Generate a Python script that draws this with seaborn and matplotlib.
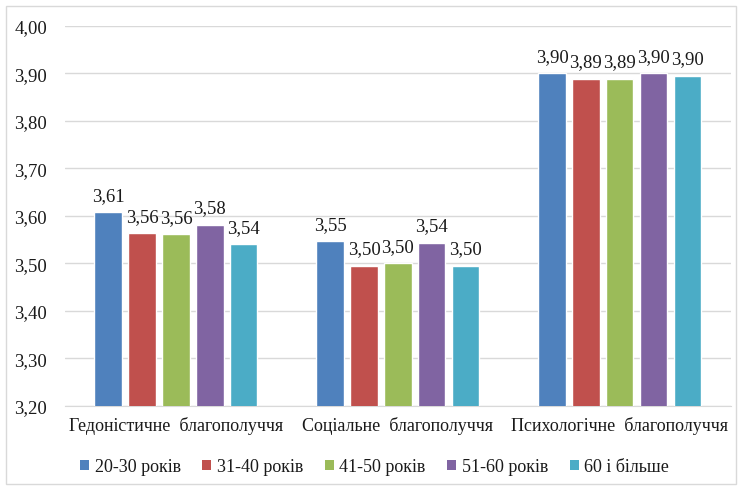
import matplotlib
matplotlib.use("Agg")
import matplotlib.pyplot as plt
from matplotlib.patches import Patch, Rectangle
import seaborn as sns
import pandas as pd

categories = ["Гедоністичне  благополуччя", "Соціальне  благополуччя", "Психологічне  благополуччя"]
groups = ["20-30 років", "31-40 років", "41-50 років", "51-60 років", "60 і більше"]
values_20_30 = [3.608, 3.547, 3.900]
values_31_40 = [3.564, 3.495, 3.889]
values_41_50 = [3.562, 3.500, 3.889]
values_51_60 = [3.582, 3.544, 3.900]
values_60_plus = [3.540, 3.495, 3.895]
y_ticks = [3.20, 3.30, 3.40, 3.50, 3.60, 3.70, 3.80, 3.90, 4.00]

colors = ["#4F81BD", "#C0504D", "#9BBB59", "#8064A2", "#4BACC6"]
text_color = "#1a1a1a"

series = [values_20_30, values_31_40, values_41_50, values_51_60, values_60_plus]
rows = []
for g, vals in zip(groups, series):
    for c, v in zip(categories, vals):
        rows.append({"category": c, "group": g, "value": v})
df = pd.DataFrame(rows)

sns.set_style("white")
plt.rcParams["font.family"] = ["Liberation Serif", "DejaVu Serif"]

fig = plt.figure(figsize=(7.42, 4.89), dpi=100)
ax = fig.add_axes([0.0876, 0.1677, 0.8974, 0.7771])

sns.barplot(data=df, x="category", y="value", hue="group", order=categories,
            hue_order=groups, palette=colors, width=0.765, gap=0.2,
            saturation=1, errorbar=None, legend=False, ax=ax, zorder=3)

ax.set_ylim(3.20, 4.00)
ax.set_yticks(y_ticks)
ax.set_yticklabels([f"{t:.2f}".replace(".", ",") for t in y_ticks])
ax.set_xlim(-0.5, 2.5)
ax.set_xlabel("")
ax.set_ylabel("")
ax.grid(axis="y", color="#d9d9d9", linewidth=1.0, zorder=0)
ax.set_axisbelow(True)
for side in ["top", "right", "left"]:
    ax.spines[side].set_visible(False)
ax.spines["bottom"].set_color("#d9d9d9")
ax.tick_params(axis="both", length=0, colors=text_color)
ax.tick_params(axis="y", labelsize=13.5, pad=13)
ax.tick_params(axis="x", labelsize=13, pad=7)

for container in ax.containers:
    ax.bar_label(container, labels=[f"{b.get_height():.2f}".replace(".", ",") for b in container],
                 padding=6, fontsize=13.5, color=text_color)

handles = [Patch(facecolor=c, edgecolor="none") for c in colors]
fig.legend(handles, groups, loc="center", bbox_to_anchor=(0.505, 0.043), ncol=5,
           frameon=False, fontsize=13, handlelength=0.5, handleheight=0.5,
           handletextpad=0.3, columnspacing=1.2, labelcolor=text_color)

fig.patches.append(Rectangle((0.008, 0.008), 0.984, 0.978, transform=fig.transFigure,
                             fill=False, edgecolor="#d9d9d9", linewidth=1.0))

fig.savefig("out.png", dpi=100)
